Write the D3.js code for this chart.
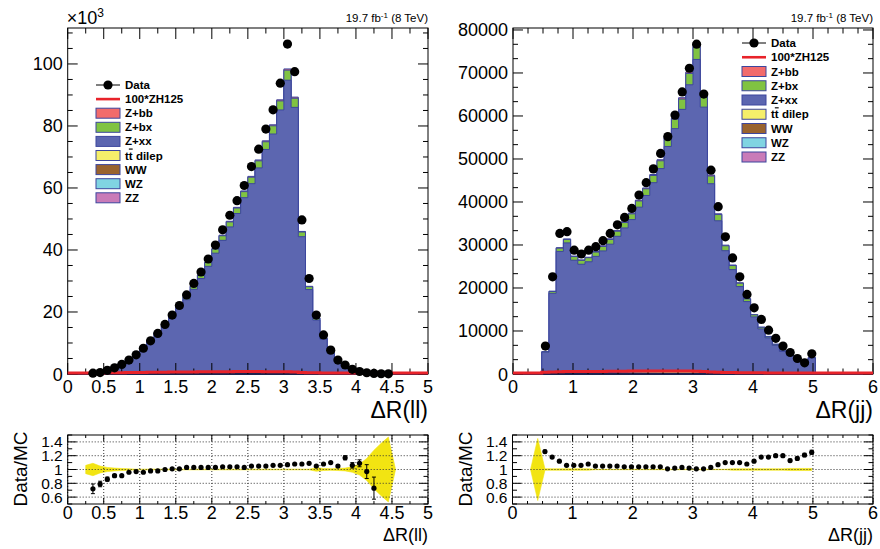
<!DOCTYPE html>
<html><head><meta charset="utf-8">
<script src="https://cdn.jsdelivr.net/npm/d3@7"></script>
<style>
body{margin:0;background:#fff}
text{font-family:"Liberation Sans",Arial,Helvetica,sans-serif;fill:#000}
</style>
</head><body>
<svg id="c" width="880" height="549"></svg>
<script>
// ---------------- DATA : ΔR(ll) (values in thousands, 50 bins 0..5) ----------------
const llNBins = 50, llXMax = 5, llYMax = 111.6;
const llData = [0,0,0, 0.25,0.45,1.2,2.0,3.1,4.5,6.2, 8.3,10.7,13.1,16.0,19.0,22.1,25.5,29.2,32.9,37.1,
  41.6,46.5,51.2,55.9,60.8,66.9,72.5,79.0,85.2,93.8, 106.4,97.5,49.7,30.8,19.0,12.6,7.7,4.5,2.9,1.5,
  0.8,0.4,0.2,0.08,0.05, 0,0,0,0,0];
const llZxx = [0,0,0, 0.34,0.55,1.34,2.11,3.26,4.51,6.14, 8.26,10.46,12.86,15.36,18.05,21.02,23.81,27.17,30.62,34.56,
  38.78,42.91,47.23,51.55,56.64,61.15,66.24,72.19,77.18,84.96, 94.56,85.82,44.16,27.17,17.38,11.23,6.72,4.13,2.40,1.34,
  0.70,0.39,0.26,0.15,0.08, 0,0,0,0,0];
const llZbx = [0,0,0, 0.01,0.02,0.05,0.07,0.11,0.16,0.21, 0.28,0.36,0.44,0.53,0.62,0.72,0.82,0.93,1.05,1.19,
  1.33,1.48,1.62,1.77,1.95,2.10,2.28,2.48,2.65,2.92, 3.25,2.95,1.52,0.93,0.60,0.39,0.23,0.14,0.08,0.05,
  0.02,0.01,0.01,0,0, 0,0,0,0,0];
const llZbb = [0,0,0, 0,0,0.01,0.01,0.01,0.02,0.03, 0.03,0.04,0.05,0.06,0.08,0.09,0.10,0.11,0.13,0.14,
  0.16,0.18,0.20,0.21,0.24,0.25,0.28,0.30,0.32,0.35, 0.39,0.36,0.18,0.11,0.07,0.05,0.03,0.02,0.01,0.01,
  0,0,0,0,0, 0,0,0,0,0];
const llTt = [0,0,0,0,0,0,0,0,0,0, 0.02,0.03,0.04,0.05,0.06,0.07,0.08,0.09,0.10,0.11,
  0.12,0.13,0.14,0.15,0.16,0.17,0.17,0.17,0.16,0.15, 0.14,0.12,0.08,0.05,0.03,0.02,0.01,0,0,0,
  0,0,0,0,0,0,0,0,0,0];
const llWw = [0,0,0,0,0,0,0,0,0,0, 0.01,0.01,0.01,0.02,0.02,0.02,0.03,0.03,0.03,0.03,
  0.04,0.04,0.04,0.04,0.04,0.04,0.04,0.04,0.04,0.03, 0.03,0.03,0.02,0.01,0.01,0,0,0,0,0,
  0,0,0,0,0,0,0,0,0,0];
const llWz = [0,0,0,0,0,0,0,0,0,0, 0.01,0.01,0.01,0.01,0.01,0.01,0.02,0.02,0.02,0.02,
  0.02,0.02,0.02,0.02,0.02,0.02,0.02,0.02,0.02,0.02, 0.02,0.02,0.01,0.01,0,0,0,0,0,0,
  0,0,0,0,0,0,0,0,0,0];
const llZz = [0,0,0,0,0,0,0,0,0,0, 0,0,0.01,0.01,0.01,0.01,0.01,0.01,0.01,0.01,
  0.01,0.01,0.01,0.01,0.01,0.01,0.01,0.01,0.01,0.01, 0.01,0.01,0.01,0,0,0,0,0,0,0,
  0,0,0,0,0,0,0,0,0,0];
const llZh100 = [0,0,0,0,0, 0.05,0.1,0.12,0.15,0.18, 0.2,0.22,0.25,0.27,0.3,0.32,0.34,0.36,0.38,0.4,
  0.42,0.43,0.44,0.45,0.45,0.45,0.45,0.44,0.42,0.4, 0.38,0.3,0.15,0.08,0.05,0.03,0.02,0,0,0,
  0,0,0,0,0,0,0,0,0,0];
const llRatio = [null,null,null, 0.72,0.79,0.86,0.91,0.91,0.96,0.97, 0.96,0.98,0.98,1.00,1.01,1.01,1.03,1.03,1.03,1.03,
  1.03,1.04,1.04,1.04,1.03,1.05,1.05,1.05,1.06,1.06, 1.07,1.08,1.08,1.09,1.05,1.08,1.10,1.05,1.17,1.06,
  1.09,0.97,0.73, null,null,null,null,null,null,null];
const llRatioErr = [0,0,0, 0.07,0.04,0.03,0.02,0.01,0.01,0.01, 0,0,0,0,0,0,0,0,0,0,
  0,0,0,0,0,0,0,0,0,0, 0,0,0,0,0.01,0.01,0.01,0.02,0.03,0.04,
  0.05,0.10,0.16, 0,0,0,0,0,0,0];
const llBand = [null,null,0.06, 0.09,0.05,0.03,0.02,0.015,0.01,0.005, 0.005,0.005,0.005,0.005,0.005,0.005,0.005,0.005,0.005,0.005,
  0.005,0.005,0.005,0.005,0.005,0.005,0.005,0.005,0.005,0.005, 0.005,0.005,0.005,0.005,0.025,0.015,0.012,0.015,0.02,0.04,
  0.08,0.16,0.28,0.38,0.47, 0,null,null,null,null];

// ---------------- DATA : ΔR(jj) (events, 50 bins 0..6) ----------------
const jjNBins = 50, jjXMax = 6, jjYMax = 80460;
const jjData = [0,0,0,0, 6500,22600,32700,33100,28800,27900,28800,29600,31000,32700,34700,36400,38500,41600,44500,47700,
  51300,55200,60200,65600,71100,76700,65100,47400,38900,31900,27000,22600,18500,15400,12700,10200,8300,6500,5000,3600,
  2600,4700, 0,0,0,0,0,0,0,0];
const jjZxx = [0,0,0,0, 5030,18630,28300,30250,26220,25270,25820,27060,28300,29840,31640,33560,35470,38330,41020,43970,
  47210,52330,56470,60940,66660,72580,61580,43940,35400,28490,24120,20210,16740,13200,10420,8360,6640,5210,4250,3000,
  2090,3700, 0,0,0,0,0,0,0,0];
const jjZbx = [0,0,0,0, 100,420,760,800,850,900,950,1000,1050,1100,1180,1250,1330,1450,1550,1680,
  1820,2020,2200,2400,2650,2900,2500,1800,1450,1150,950,780,620,480,370,290,220,160,120,80,
  50,80, 0,0,0,0,0,0,0,0];
const jjZbb = [0,0,0,0, 20,70,110,120,110,110,110,120,130,140,150,160,170,190,200,220,
  240,260,290,310,340,370,320,230,180,140,120,100,80,60,50,40,30,20,20,10,
  10,10, 0,0,0,0,0,0,0,0];
const jjTt = [0,0,0,0, 30,90,130,150,150,160,170,180,200,220,240,260,280,300,320,340,
  360,380,390,400,400,390,320,200,150,120,100,80,65,50,40,30,25,20,15,10,
  8,10, 0,0,0,0,0,0,0,0];
const jjWw = [0,0,0,0, 10,30,45,50,50,55,60,65,70,75,80,85,90,95,100,105,
  110,115,115,115,110,105,90,60,45,35,30,25,20,15,12,10,8,6,5,4,
  3,3, 0,0,0,0,0,0,0,0];
const jjWz = [0,0,0,0, 5,15,20,25,25,25,30,30,35,35,40,40,45,45,50,50,
  55,55,55,55,55,50,45,30,22,18,15,12,10,8,6,5,4,3,2,2,
  1,2, 0,0,0,0,0,0,0,0];
const jjZz = [0,0,0,0, 3,8,12,14,14,15,16,17,18,20,21,22,24,25,26,27,
  28,29,29,29,28,27,23,16,12,10,8,6,5,4,3,3,2,2,1,1,
  1,1, 0,0,0,0,0,0,0,0];
const jjZh100 = [0,0,0,0, 150,250,300,320,320,320,330,340,360,380,400,420,440,460,470,480,
  490,490,480,470,450,420,350,250,180,130,100,70,50,40,30,20,15,10,0,0,
  0,0, 0,0,0,0,0,0,0,0];
const jjRatio = [null,null,null,null, 1.26,1.18,1.12,1.06,1.06,1.06,1.08,1.05,1.05,1.05,1.05,1.04,1.04,1.04,1.04,1.04,
  1.04,1.01,1.02,1.03,1.02,1.01,1.01,1.03,1.07,1.10,1.10,1.10,1.08,1.12,1.18,1.18,1.20,1.20,1.13,1.16,
  1.21,1.25, null,null,null,null,null,null,null,null];
const jjRatioErr = [0,0,0,0, 0.02,0.01,0.01,0.01,0.01,0.01,0.01,0.01,0.01,0.01,0.01,0.01,0.01,0.01,0.01,0.01,
  0.01,0.01,0.01,0.01,0.01,0.01,0.01,0.01,0.01,0.01,0.01,0.01,0.01,0.01,0.01,0.01,0.015,0.015,0.02,0.02,
  0.025,0.03, 0,0,0,0,0,0,0,0];
const jjBand = [null,null,0, 0.45,0.01,0.01,0.01,0.01,0.01,0.01,0.01,0.003,0.003,0.003,0.003,0.003,0.003,0.003,0.003,0.003,
  0.003,0.003,0.003,0.003,0.003,0.003,0.003,0.003,0.003,0.003,0.01,0.01,0.01,0.01,0.01,0.01,0.01,0.01,0.015,0.015,
  0.015,0.015, null,null,null,null,null,null,null,null];

// legend / labels
const legendNames = ["Data","100*ZH125","Z+bb","Z+bx","Z+xx","tt dilep","WW","WZ","ZZ"];
const lumiText = ["19.7 fb","-1"," (8 TeV)"];
const ratioTicks = [0.6,0.8,1,1.2,1.4];

// ---------------- STYLE ----------------
const C = {zbb:"#f26b6b", zbx:"#80c342", zxx:"#5c66b0", tt:"#f5ef6a", ww:"#99632f", wz:"#80d4e2", zz:"#c97bb8",
  edge:"#3c469e", zh:"#e8232a", band:"#f2e412"};
const svg = d3.select("#c");

function stackedLayers(s){
  return [
    {v:s.zz,c:C.zz},{v:s.wz,c:C.wz},{v:s.ww,c:C.ww},{v:s.tt,c:C.tt},
    {v:s.zxx,c:C.zxx},{v:s.zbx,c:C.zbx},{v:s.zbb,c:C.zbb}];
}

function ticks(g, x, y, L, R, T, B, o){
  const xs = (a,b,st)=>d3.range(Math.round(a/st), Math.round(b/st)+1).map(i=>+(i*st).toFixed(6));
  const major = xs(0,o.xmax,o.xMaj), minor = xs(0,o.xmax,o.xMin).filter(v=>!major.some(m=>Math.abs(m-v)<1e-6));
  const path = d3.path();
  major.forEach(v=>{const px=x(v); path.moveTo(px,B); path.lineTo(px,B-o.xLen); path.moveTo(px,T); path.lineTo(px,T+o.xLen);});
  minor.forEach(v=>{const px=x(v); path.moveTo(px,B); path.lineTo(px,B-o.xLen/2); path.moveTo(px,T); path.lineTo(px,T+o.xLen/2);});
  o.yMajVals.forEach(v=>{const py=y(v); path.moveTo(L,py); path.lineTo(L+o.yLen,py); path.moveTo(R,py); path.lineTo(R-o.yLen,py);});
  o.yMinVals.forEach(v=>{const py=y(v); path.moveTo(L,py); path.lineTo(L+o.yLen/2,py); path.moveTo(R,py); path.lineTo(R-o.yLen/2,py);});
  g.append("path").attr("d",path.toString()).attr("stroke","#000").attr("stroke-width",1).attr("fill","none");
  return major;
}

function drawTop(o){
  const g = svg.append("g");
  const x = d3.scaleLinear().domain([0,o.xmax]).range([o.L,o.R]);
  const y = d3.scaleLinear().domain([0,o.ymax]).range([o.B,o.T]);
  const edges = d3.range(o.n+1).map(i=>i*o.xmax/o.n);
  const layers = stackedLayers(o.s);
  const cum = []; let run = new Array(o.n).fill(0);
  layers.forEach(l=>{ run = run.map((r,k)=>r+l.v[k]); cum.push(run.slice()); });
  const area = d3.area().x(d=>x(d[0])).y0(y(0)).y1(d=>y(d[1])).curve(d3.curveStepAfter);
  const pts = arr => edges.map((e,k)=>[e, arr[Math.min(k,o.n-1)]]);
  for(let i=layers.length-1;i>=0;i--){
    g.append("path").attr("d",area(pts(cum[i]))).attr("fill",layers[i].c)
      .attr("stroke",C.edge).attr("stroke-width",1);
  }
  // frame & ticks
  g.append("rect").attr("x",o.L).attr("y",o.T).attr("width",o.R-o.L).attr("height",o.B-o.T)
    .attr("fill","none").attr("stroke","#000").attr("stroke-width",1);
  const major = ticks(g,x,y,o.L,o.R,o.T,o.B,{xmax:o.xmax,xMaj:o.xMaj,xMin:o.xMin,xLen:11,
    yMajVals:o.yMajVals,yMinVals:o.yMinVals,yLen:10});
  // signal line drawn over the axis, as in the reference
  const line = d3.line().x(d=>x(d[0])).y(d=>y(d[1])-1).curve(d3.curveStepAfter);
  g.append("path").attr("d",line(pts(o.zh))).attr("fill","none").attr("stroke",C.zh).attr("stroke-width",3);
  // data
  const dd = o.data.map((v,k)=>({x:(edges[k]+edges[k+1])/2,v})).filter(d=>d.v>0);
  g.selectAll("circle.d").data(dd).enter().append("circle")
    .attr("cx",d=>x(d.x)).attr("cy",d=>y(d.v)).attr("r",4.6).attr("fill","#000");
  g.selectAll("text.xl").data(major).enter().append("text")
    .attr("x",d=>x(d)).attr("y",393).attr("text-anchor","middle").attr("font-size",18)
    .text(d=>String(+d.toFixed(2)));
  g.selectAll("text.yl").data(o.yMajVals).enter().append("text")
    .attr("x",o.L-5).attr("y",d=>y(d)+6.5).attr("text-anchor","end").attr("font-size",18)
    .text(o.yFmt);
  g.append("text").attr("x",o.R).attr("y",418).attr("text-anchor","end").attr("font-size",23).text(o.title);
  const lt = g.append("text").attr("x",o.R).attr("y",22).attr("text-anchor","end").attr("font-size",11.5);
  lt.append("tspan").text(lumiText[0]);
  lt.append("tspan").attr("dy",-4).attr("font-size",8).text(lumiText[1]);
  lt.append("tspan").attr("dy",4).text(lumiText[2]);
  // legend
  const lg = g.append("g");
  const cols = [null,null,C.zbb,C.zbx,C.zxx,C.tt,C.ww,C.wz,C.zz];
  legendNames.forEach((nm,i)=>{
    const cy = o.legY + i*o.legDy;
    if(i===0){
      lg.append("line").attr("x1",o.legX).attr("x2",o.legX+24).attr("y1",cy).attr("y2",cy).attr("stroke","#000").attr("stroke-width",1);
      lg.append("circle").attr("cx",o.legX+12).attr("cy",cy).attr("r",4.6).attr("fill","#000");
    } else if(i===1){
      lg.append("line").attr("x1",o.legX).attr("x2",o.legX+24).attr("y1",cy).attr("y2",cy).attr("stroke",C.zh).attr("stroke-width",2.6);
    } else {
      lg.append("rect").attr("x",o.legX).attr("y",cy-5).attr("width",24).attr("height",10)
        .attr("fill",cols[i]).attr("stroke",C.edge).attr("stroke-width",1);
    }
    const t = lg.append("text").attr("x",o.legX+29).attr("y",cy+4).attr("font-size",11.5).attr("font-weight","bold");
    if(nm==="tt dilep"){
      t.append("tspan").text("t");
      t.append("tspan").style("text-decoration","overline").text("t");
      t.append("tspan").text(" dilep");
    } else t.text(nm);
  });
  if(o.exp){
    const e = g.append("text").attr("x",o.L-1).attr("y",24).attr("font-size",18);
    e.append("tspan").text("\u00d710");
    e.append("tspan").attr("dy",-7).attr("font-size",12).text("3");
  }
}

function drawRatio(o){
  const g = svg.append("g");
  const x = d3.scaleLinear().domain([0,o.xmax]).range([o.L,o.R]);
  const y = d3.scaleLinear().domain([0.5,1.5]).range([o.B,o.T]);
  const edges = d3.range(o.n+1).map(i=>i*o.xmax/o.n);
  const ctr = k => (edges[k]+edges[k+1])/2;
  const bd = o.band.map((w,k)=>({x:ctr(k),w})).filter(d=>d.w!==null);
  const area = d3.area().x(d=>x(d.x)).y0(d=>y(1-d.w)).y1(d=>y(1+d.w));
  g.append("path").attr("d",area(bd)).attr("fill",C.band).attr("stroke",C.band).attr("stroke-width",0.6);
  const gx = d3.range(0, Math.round(o.xmax/o.xMaj)+1).map(i=>i*o.xMaj);
  const gp = d3.path();
  gx.forEach(v=>{gp.moveTo(x(v),o.T); gp.lineTo(x(v),o.B);});
  ratioTicks.forEach(v=>{gp.moveTo(o.L,y(v)); gp.lineTo(o.R,y(v));});
  g.append("path").attr("d",gp.toString()).attr("stroke","#333").attr("stroke-width",1)
    .attr("stroke-dasharray","1,2").attr("fill","none");
  const pd = o.ratio.map((v,k)=>({x:ctr(k),v,e:o.err[k]})).filter(d=>d.v!==null);
  const ep = d3.path();
  pd.filter(d=>d.e>0.012).forEach(d=>{
    const px=x(d.x); ep.moveTo(px,y(d.v-d.e)); ep.lineTo(px,y(d.v+d.e));
    ep.moveTo(px-2,y(d.v-d.e)); ep.lineTo(px+2,y(d.v-d.e)); ep.moveTo(px-2,y(d.v+d.e)); ep.lineTo(px+2,y(d.v+d.e));
  });
  g.append("path").attr("d",ep.toString()).attr("stroke","#000").attr("stroke-width",1).attr("fill","none");
  g.selectAll("circle").data(pd).enter().append("circle")
    .attr("cx",d=>x(d.x)).attr("cy",d=>y(d.v)).attr("r",2.6).attr("fill","#000");
  g.append("rect").attr("x",o.L).attr("y",o.T).attr("width",o.R-o.L).attr("height",o.B-o.T)
    .attr("fill","none").attr("stroke","#000").attr("stroke-width",1);
  const ymin = d3.range(5,16).map(i=>i/10).filter(v=>!ratioTicks.some(t=>Math.abs(t-v)<1e-6));
  const major = ticks(g,x,y,o.L,o.R,o.T,o.B,{xmax:o.xmax,xMaj:o.xMaj,xMin:o.xMin,xLen:6,
    yMajVals:ratioTicks,yMinVals:ymin,yLen:9});
  g.selectAll("text.xl").data(major).enter().append("text")
    .attr("x",d=>x(d)).attr("y",519).attr("text-anchor","middle").attr("font-size",18)
    .text(d=>String(+d.toFixed(2)));
  g.selectAll("text.yl").data(ratioTicks).enter().append("text")
    .attr("x",o.L-5).attr("y",d=>y(d)+5.5).attr("text-anchor","end").attr("font-size",15.5)
    .text(d=>String(+d.toFixed(1)));
  g.append("text").attr("x",o.R).attr("y",541).attr("text-anchor","end").attr("font-size",18).text(o.title);
  g.append("text").attr("transform",`translate(${o.yTitleX},469) rotate(-90)`).attr("text-anchor","middle")
    .attr("font-size",19).text("Data/MC");
}

drawTop({L:67.7,R:428,T:28,B:374,n:llNBins,xmax:llXMax,ymax:llYMax,xMaj:0.5,xMin:0.25,
  yMajVals:[0,20,40,60,80,100], yMinVals:d3.range(0,23).map(i=>i*5).filter(v=>v%20!==0&&v<llYMax),
  yFmt:d=>String(d), title:"\u0394R(ll)", exp:true,
  s:{zz:llZz,wz:llWz,ww:llWw,tt:llTt,zxx:llZxx,zbx:llZbx,zbb:llZbb}, zh:llZh100, data:llData,
  legX:96, legY:85, legDy:14.1});
drawTop({L:513,R:873,T:28,B:374,n:jjNBins,xmax:jjXMax,ymax:jjYMax,xMaj:1,xMin:0.25,
  yMajVals:d3.range(0,9).map(i=>i*10000), yMinVals:d3.range(0,25).map(i=>i*10000/3).filter((v,i)=>i%3!==0&&v<jjYMax),
  yFmt:d=>String(d), title:"\u0394R(jj)", exp:false,
  s:{zz:jjZz,wz:jjWz,ww:jjWw,tt:jjTt,zxx:jjZxx,zbx:jjZbx,zbb:jjZbb}, zh:jjZh100, data:jjData,
  legX:742, legY:43, legDy:14.25});
drawRatio({L:67.7,R:428,T:435,B:504,n:llNBins,xmax:llXMax,xMaj:0.5,xMin:0.25,
  ratio:llRatio,err:llRatioErr,band:llBand,title:"\u0394R(ll)",yTitleX:27});
drawRatio({L:512.5,R:873,T:435,B:504,n:jjNBins,xmax:jjXMax,xMaj:1,xMin:0.25,
  ratio:jjRatio,err:jjRatioErr,band:jjBand,title:"\u0394R(jj)",yTitleX:472});
</script>
</body></html>
